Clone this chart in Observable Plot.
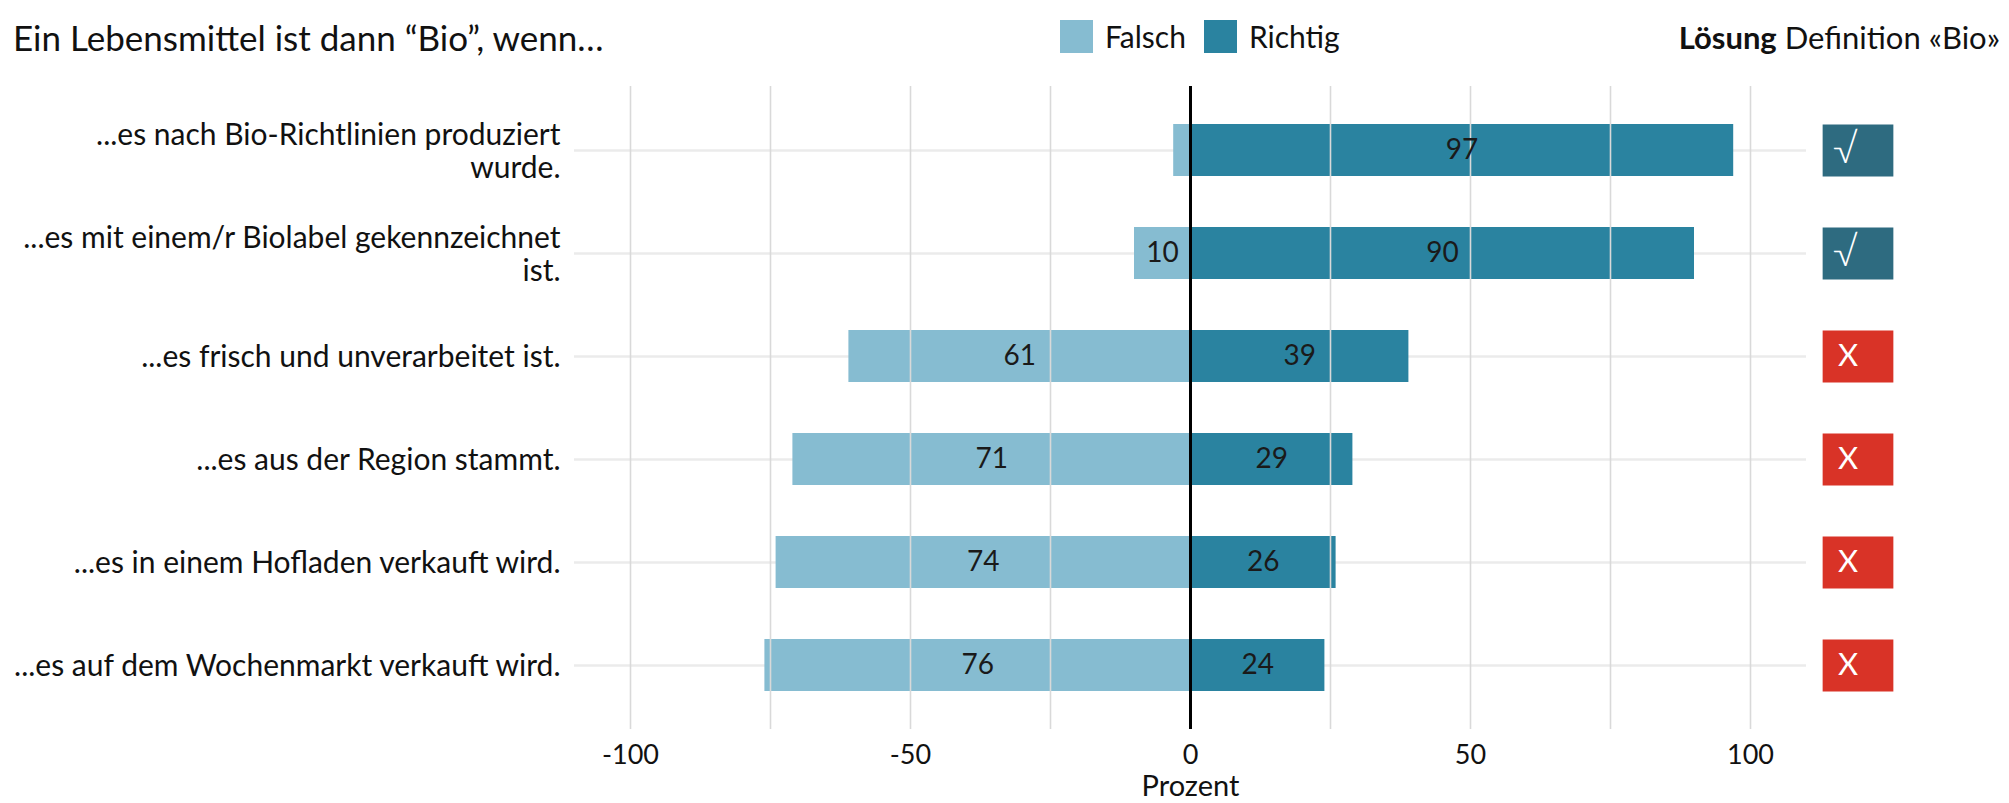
<!DOCTYPE html>
<html><head><meta charset="utf-8">
<script src="https://cdn.jsdelivr.net/npm/d3@7"></script>
<script src="https://cdn.jsdelivr.net/npm/@observablehq/plot@0.6"></script>
<style>
body{margin:0;background:#fff;font-family:Lato,"Open Sans",sans-serif;color:#111;}
#header{position:relative;height:60px;width:2009px;}
#title{position:absolute;left:13px;top:16px;font-size:35px;line-height:42px;white-space:nowrap;}
#legend{position:absolute;left:1060px;top:18px;display:flex;align-items:center;font-size:30px;line-height:36px;}
.sw{display:inline-block;width:33px;height:33px;margin-right:12px;}
.lab{margin-right:18px;}
#loesung{position:absolute;right:9px;top:18px;font-size:31px;line-height:38px;white-space:nowrap;}
</style></head><body>
<div id="header">
  <div id="title"></div>
  <div id="legend"></div>
  <div id="loesung"></div>
</div>
<div id="chart"></div>
<script>
const titel = "Ein Lebensmittel ist dann “Bio”, wenn…";
const loesungTitel = ["Lösung", "Definition «Bio»"];
const antworten = ["Falsch", "Richtig"];
const farben = ["#86bcd1", "#2a83a0"];
const fragen = [
  "...es nach Bio-Richtlinien produziert\nwurde.",
  "...es mit einem/r Biolabel gekennzeichnet\nist.",
  "...es frisch und unverarbeitet ist.",
  "...es aus der Region stammt.",
  "...es in einem Hofladen verkauft wird.",
  "...es auf dem Wochenmarkt verkauft wird."
];
const falsch = [3, 10, 61, 71, 74, 76];
const richtig = [97, 90, 39, 29, 26, 24];
const korrekt = [true, true, false, false, false, false];
const xTicks = [-100, -50, 0, 50, 100];
const gridTicks = [-100, -75, -50, -25, 25, 50, 75, 100];
const achsenTitel = "Prozent";

document.getElementById("title").textContent = titel;
document.getElementById("loesung").innerHTML = "<b>" + loesungTitel[0] + "</b> " + loesungTitel[1];
document.getElementById("legend").innerHTML = antworten.map((a, i) =>
  `<span class="sw" style="background:${farben[i]}"></span><span class="lab">${a}</span>`).join("");

const segs = fragen.flatMap((f, i) => [
  {frage: f, antwort: antworten[0], x1: -falsch[i], x2: 0, v: falsch[i]},
  {frage: f, antwort: antworten[1], x1: 0, x2: richtig[i], v: richtig[i]}
]);
const loes = fragen.map((f, i) => ({frage: f, ok: korrekt[i]}));

const boxSymbol = {
  draw(ctx, size) {
    const h = Math.sqrt(size / Math.PI) * 2, w = h * 1.36;
    ctx.moveTo(-w / 2, -h / 2); ctx.lineTo(w / 2, -h / 2);
    ctx.lineTo(w / 2, h / 2); ctx.lineTo(-w / 2, h / 2); ctx.closePath();
  }
};

const chart = Plot.plot({
  width: 2009, height: 743,
  marginLeft: 574, marginRight: 203, marginTop: 26, marginBottom: 74,
  style: {fontFamily: "Lato, 'Open Sans', sans-serif", background: "#fff", color: "#111", overflow: "visible"},
  x: {domain: [-110, 110]},
  y: {domain: fragen, paddingInner: 0.5, paddingOuter: 0.35},
  color: {domain: antworten, range: farben},
  marks: [
    Plot.ruleY(fragen, {y: d => d, stroke: "#ebebeb", strokeWidth: 2.5}),
    Plot.barX(segs, {y: "frage", x1: "x1", x2: "x2", fill: "antwort"}),
    Plot.ruleX(gridTicks, {stroke: "#d9d9d9", strokeWidth: 1.6}),
    Plot.ruleX([0], {stroke: "#000", strokeWidth: 3}),
    Plot.text(segs.filter(d => d.v >= 5), {y: "frage", x: d => (d.x1 + d.x2) / 2, text: d => String(d.v), fontSize: 28, fill: "#1a1a1a"}),
    Plot.axisY({tickSize: 0, tickPadding: 14, fontSize: 30, lineHeight: 1.1, label: null}),
    Plot.axisX({ticks: xTicks, tickSize: 0, tickPadding: 15, fontSize: 27, tickFormat: d => String(d), label: null}),
    Plot.text([achsenTitel], {frameAnchor: "bottom", dy: 57, fontSize: 29, lineAnchor: "middle"}),
    Plot.dot(loes.filter(d => d.ok), {y: "frage", frameAnchor: "right", dx: 51.5, r: 26, symbol: boxSymbol, fill: "#2e6b80", stroke: "none"}),
    Plot.dot(loes.filter(d => !d.ok), {y: "frage", frameAnchor: "right", dx: 51.5, r: 26, symbol: boxSymbol, fill: "#d93327", stroke: "none"}),
    Plot.text(loes.filter(d => d.ok), {y: "frage", frameAnchor: "right", dx: 51.5, text: () => "√", fill: "#fff", fontSize: 40, fontWeight: 300}),
    Plot.text(loes.filter(d => !d.ok), {y: "frage", frameAnchor: "right", dx: 51.5, text: () => "X", fill: "#fff", fontSize: 31})
  ]
});
document.getElementById("chart").appendChild(chart);
</script>
</body></html>
